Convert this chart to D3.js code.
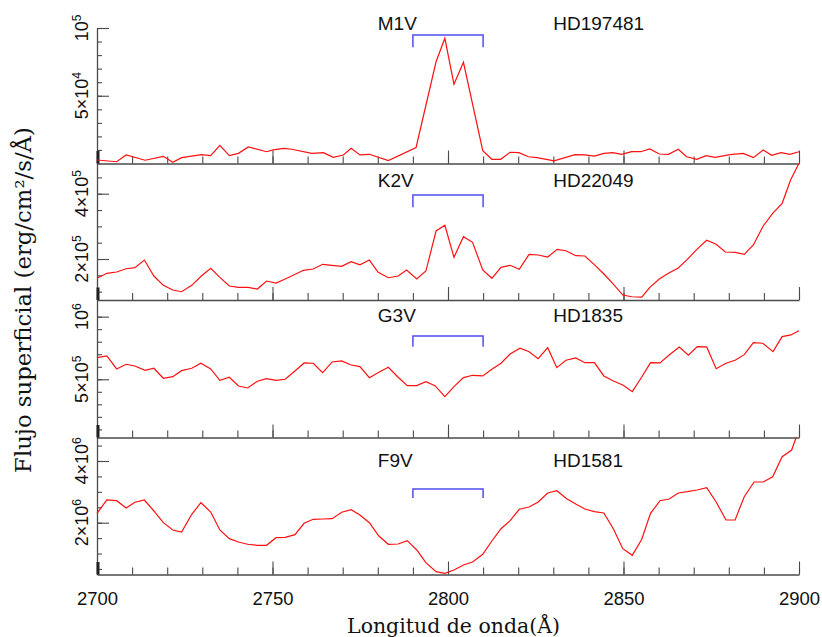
<!DOCTYPE html>
<html><head><meta charset="utf-8">
<script src="https://cdn.jsdelivr.net/npm/d3@7"></script>
<style>body{margin:0;background:#fff}svg{display:block}</style>
</head><body><svg id="chart" width="822" height="637"></svg>
<script>
// ---------- DATA ----------
const spectralTypes = ["M1V", "K2V", "G3V", "F9V"];
const starNames = ["HD197481", "HD22049", "HD1835", "HD1581"];

const wlM1V = [2700,2705.6,2708.3,2713.7,2718.9,2721.6,2724.1,2729.8,2732.4,2735.0,2737.7,2740.3,2743.1,2748.3,2750.2,2753.1,2755.5,2761.2,2764.5,2767.3,2770.2,2772.4,2774.9,2777.6,2783.0,2790.9,2796.6,2799.1,2801.7,2804.4,2809.9,2812.5,2815.0,2817.7,2820.2,2822.9,2825.4,2830.2,2836.2,2839.0,2841.7,2844.4,2846.9,2849.5,2852.3,2854.9,2857.5,2860.2,2862.8,2865.6,2868.0,2870.9,2873.5,2876.1,2880.3,2884.1,2887.0,2889.8,2892.2,2894.9,2897.4,2900];
const fluxM1V = [2600,1300,6300,2400,5300,900,4300,6500,5800,13400,5800,7500,12200,8700,10000,11200,10500,7500,8000,4600,6300,11200,6300,6800,2100,11800,75100,92400,58500,74700,9500,3100,3100,8300,8000,5000,4300,1900,6500,6300,5500,7500,8000,6800,8700,8700,10700,7000,6800,10500,5000,3100,5800,4600,6500,7500,4300,10000,6100,8000,6800,8700];

const wlK2V = [2700,2702.8,2705.6,2708.3,2710.8,2713.5,2716.2,2718.9,2721.6,2724.1,2727.0,2729.8,2732.4,2735.0,2737.7,2740.3,2743.1,2745.7,2748.3,2751.0,2753.6,2755.9,2758.8,2761.6,2764.3,2766.9,2769.7,2772.4,2774.9,2777.6,2780.1,2783.0,2785.8,2788.2,2791.1,2793.7,2796.6,2799.1,2801.7,2804.4,2807.0,2809.9,2812.5,2815.1,2817.7,2820.3,2823.1,2825.7,2828.4,2831.1,2833.6,2836.4,2839.0,2841.9,2844.7,2847.1,2849.8,2852.3,2855.2,2857.5,2860.2,2862.8,2865.6,2868.2,2870.9,2873.7,2876.4,2879.0,2881.8,2884.4,2887.0,2889.8,2892.5,2895.2,2897.6,2900];
const fluxK2V = [140900,156200,160200,170300,173400,196900,147900,119400,105000,99800,119400,148800,171500,143900,117300,113300,113300,108100,132600,126500,138700,150100,165400,169400,183800,180700,177600,191700,182500,196900,159300,142700,147900,166300,138700,163200,285800,303200,205200,268300,251200,166300,140900,174600,180700,168500,214400,212300,206100,229700,225400,210100,209200,180700,151000,123400,89700,84500,83600,113300,138700,156200,172400,199100,229700,257300,245000,221400,220500,214400,242900,301100,340000,370600,442000,493100];

const wlG3V = [2700,2702.8,2705.6,2708.3,2710.8,2713.7,2716.2,2718.9,2721.6,2724.1,2727.0,2729.6,2732.4,2735.0,2737.7,2740.3,2742.9,2745.7,2748.3,2751.0,2753.6,2756.4,2759.0,2761.6,2764.3,2767.0,2769.7,2772.4,2774.9,2777.6,2780.3,2783.0,2785.8,2788.4,2791.1,2793.7,2796.3,2799.1,2801.7,2804.4,2807.0,2809.9,2812.5,2815.1,2817.7,2820.5,2823.1,2825.7,2828.4,2831.0,2833.6,2836.4,2839.0,2841.7,2844.4,2847.1,2849.8,2852.5,2855.2,2857.7,2860.4,2863.0,2865.9,2868.5,2871.0,2873.7,2876.4,2879.2,2881.8,2884.4,2887.0,2889.7,2892.6,2895.2,2897.7,2900];
const fluxG3V = [672500,686100,582300,619800,606200,571900,587900,508000,520800,568700,587900,627800,582300,492000,516000,446500,430500,484000,504800,492000,500000,566300,630200,627800,552700,638200,646200,614200,600700,512800,555900,595900,515900,448900,448900,480800,448900,361000,440900,512800,531800,526400,579900,627800,702100,747600,720500,664500,752400,592700,651800,670100,632600,632600,526400,486400,454500,401000,518400,632600,630200,694100,758000,691700,760400,758000,584700,627800,651800,696500,792300,787500,720500,840300,853800,888200];

const wlF9V = [2700,2702.8,2705.6,2708.3,2710.8,2713.5,2716.2,2718.9,2721.6,2724.1,2727.0,2729.6,2732.4,2735.0,2737.7,2740.3,2742.9,2745.7,2748.3,2751.0,2753.6,2756.4,2759.0,2761.6,2764.3,2767.0,2769.7,2772.4,2774.9,2777.6,2780.3,2783.0,2785.8,2788.4,2791.1,2793.7,2796.6,2799.1,2801.7,2804.4,2807.0,2809.9,2812.5,2815.1,2817.7,2820.3,2823.1,2825.7,2828.4,2831.0,2833.8,2836.4,2839.0,2841.7,2844.4,2847.1,2849.8,2852.5,2855.2,2857.7,2860.4,2863.0,2865.6,2868.2,2871.0,2873.7,2876.4,2879.2,2881.8,2884.4,2887.2,2889.8,2892.5,2895.2,2897.9,2899.2];
const fluxF9V = [2304700,2735800,2713100,2476500,2661300,2735800,2379300,2000000,1763400,1698500,2272300,2648300,2346800,1763400,1481400,1374400,1299800,1267400,1267400,1513800,1526700,1611000,1980600,2110200,2119900,2129700,2337100,2421400,2249600,2000000,1568900,1299800,1309600,1416500,1115100,703400,411700,359800,466800,628900,726100,975700,1406800,1805500,2064800,2434400,2508900,2671000,2962700,3037300,2778000,2606200,2444100,2356600,2314400,1805500,1157200,943300,1461900,2304700,2713100,2768200,2962700,3004900,3059900,3134500,2671000,2087500,2087500,2842800,3319300,3319300,3491100,4139400,4356600,4770000];

// axis domains / ticks (data units)
const xDomain = [2700, 2900];
const xMinorTicks = d3.range(2700, 2901, 10);
const xMajorTicks = [2700, 2750, 2800, 2850, 2900];
const yDomains = [[0, 100000], [74500, 492500], [35000, 1133000], [320000, 4762000]];
const yMinorTicks = [
  d3.range(1, 11).map(k => k * 1e4),
  d3.range(2, 10).map(k => k * 5e4),
  d3.range(1, 11).map(k => k * 1e5),
  d3.range(1, 10).map(k => k * 5e5)
];
const yLabelTicks = [[5e4, 1e5], [2e5, 4e5], [5e5, 1e6], [2e6, 4e6]];
// Mg II window bracket (wavelengths) and its heights (data units)
const bracketWl = [2790, 2810];
const bracketTop = [94800, 396000, 845500, 3092000];
const bracketBottom = [85800, 358400, 760000, 2800400];
const labelWl = [2780, 2830];

// ---------- LAYOUT ----------
const panelTop = [28, 163.5, 300, 437.5];
const panelBottom = [163.5, 300, 437.5, 574.5];
const labelDy = [2, 23.5, 22, 29.2];
const left = 97, right = 799;

const spectra = [
  wlM1V.map((w, i) => [w, fluxM1V[i]]),
  wlK2V.map((w, i) => [w, fluxK2V[i]]),
  wlG3V.map((w, i) => [w, fluxG3V[i]]),
  wlF9V.map((w, i) => [w, fluxF9V[i]])
];

const svg = d3.select("#chart");
const x = d3.scaleLinear().domain(xDomain).range([left, right]);
const sansFont = "'Liberation Sans', Arial, Helvetica, sans-serif";
const serifFont = "'DejaVu Serif', serif";
const axisColor = "#4a4a4a";

function expLabel(textSel, v) {
  const e = Math.floor(Math.log10(v) + 1e-9);
  const m = Math.round(v / Math.pow(10, e));
  textSel.append("tspan").text((m === 1 ? "" : m + "×") + "10");
  textSel.append("tspan").attr("dy", -7).attr("font-size", 12).text(String(e));
}

spectra.forEach((pts, p) => {
  const y = d3.scaleLinear().domain(yDomains[p]).range([panelBottom[p], panelTop[p]]);
  const g = svg.append("g");

  // bottom axis (ticks pointing up)
  const minorAx = d3.axisBottom(x).tickValues(xMinorTicks).tickSize(-7).tickSizeOuter(0).tickFormat("");
  const majorAx = d3.axisBottom(x).tickValues(xMajorTicks).tickSize(-13).tickSizeOuter(0).tickFormat("");
  const gb1 = g.append("g").attr("transform", `translate(0,${panelBottom[p]})`).call(minorAx);
  const gb2 = g.append("g").attr("transform", `translate(0,${panelBottom[p]})`).call(majorAx);
  gb2.select(".domain").remove();
  [gb1, gb2].forEach(s => {
    s.selectAll("line").attr("stroke", axisColor).attr("stroke-width", 1.1);
    s.select(".domain").attr("stroke", axisColor).attr("stroke-width", 1.3);
  });

  // left axis (ticks pointing right)
  const yMinor = d3.axisLeft(y).tickValues(yMinorTicks[p]).tickSize(-5).tickSizeOuter(0).tickFormat("");
  const yMajor = d3.axisLeft(y).tickValues(yLabelTicks[p]).tickSize(-12).tickSizeOuter(0).tickFormat("");
  const gl1 = g.append("g").attr("transform", `translate(${left},0)`).call(yMinor);
  const gl2 = g.append("g").attr("transform", `translate(${left},0)`).call(yMajor);
  gl2.select(".domain").remove();
  [gl1, gl2].forEach(s => {
    s.selectAll("line").attr("stroke", axisColor).attr("stroke-width", 1.1);
    s.select(".domain").attr("stroke", axisColor).attr("stroke-width", 1.3);
  });
  // thicker base of the left axis
  g.append("line").attr("x1", left + 1).attr("x2", left + 1)
    .attr("y1", panelBottom[p] - 12.5).attr("y2", panelBottom[p])
    .attr("stroke", "#222").attr("stroke-width", 3);

  // rotated y tick labels
  yLabelTicks[p].forEach(v => {
    const t = g.append("text")
      .attr("transform", `translate(88,${y(v)}) rotate(-90)`)
      .attr("text-anchor", "middle")
      .attr("font-family", sansFont).attr("font-size", 18).attr("fill", "#111");
    expLabel(t, v);
  });

  // Mg II bracket
  const bp = d3.path();
  bp.moveTo(x(bracketWl[0]), y(bracketBottom[p]));
  bp.lineTo(x(bracketWl[0]), y(bracketTop[p]));
  bp.lineTo(x(bracketWl[1]), y(bracketTop[p]));
  bp.lineTo(x(bracketWl[1]), y(bracketBottom[p]));
  g.append("path").attr("d", bp.toString()).attr("fill", "none")
    .attr("stroke", "#4e4ef0").attr("stroke-width", 1.5);

  // spectrum
  g.append("path").datum(pts)
    .attr("d", d3.line().x(d => x(d[0])).y(d => y(d[1])))
    .attr("fill", "none").attr("stroke", "#ff1010").attr("stroke-width", 1.2)
    .attr("stroke-linejoin", "miter");

  // labels
  g.append("text").attr("x", x(labelWl[0])).attr("y", panelTop[p] + labelDy[p])
    .attr("font-family", sansFont).attr("font-size", 19).attr("fill", "#111")
    .text(spectralTypes[p]);
  g.append("text").attr("x", x(labelWl[1])).attr("y", panelTop[p] + labelDy[p])
    .attr("font-family", sansFont).attr("font-size", 19).attr("fill", "#111")
    .text(starNames[p]);
});

// x tick labels under the bottom panel
const xLab = d3.axisBottom(x).tickValues(xMajorTicks).tickSize(0).tickPadding(0).tickFormat(d3.format("d"));
const gx = svg.append("g").attr("transform", `translate(0,${panelBottom[3]})`).call(xLab);
gx.select(".domain").remove();
gx.selectAll("text").attr("font-family", sansFont).attr("font-size", 18.5)
  .attr("fill", "#111").attr("dy", null).attr("y", 30.5);

function fitWidth(sel, target) {
  const len = sel.node().getComputedTextLength();
  const fs = parseFloat(sel.attr("font-size"));
  sel.attr("font-size", fs * target / len);
}

const xt = svg.append("text").attr("x", 453.5).attr("y", 633)
  .attr("text-anchor", "middle").attr("font-family", serifFont).attr("font-size", 20)
  .attr("fill", "#111").text("Longitud de onda(Å)");
fitWidth(xt, 213);

const yt = svg.append("text").attr("transform", "translate(31,300) rotate(-90)")
  .attr("text-anchor", "middle").attr("font-family", serifFont).attr("font-size", 22)
  .attr("fill", "#111").text("Flujo superficial (erg/cm²/s/Å)");
fitWidth(yt, 346);
</script>
</body></html>
